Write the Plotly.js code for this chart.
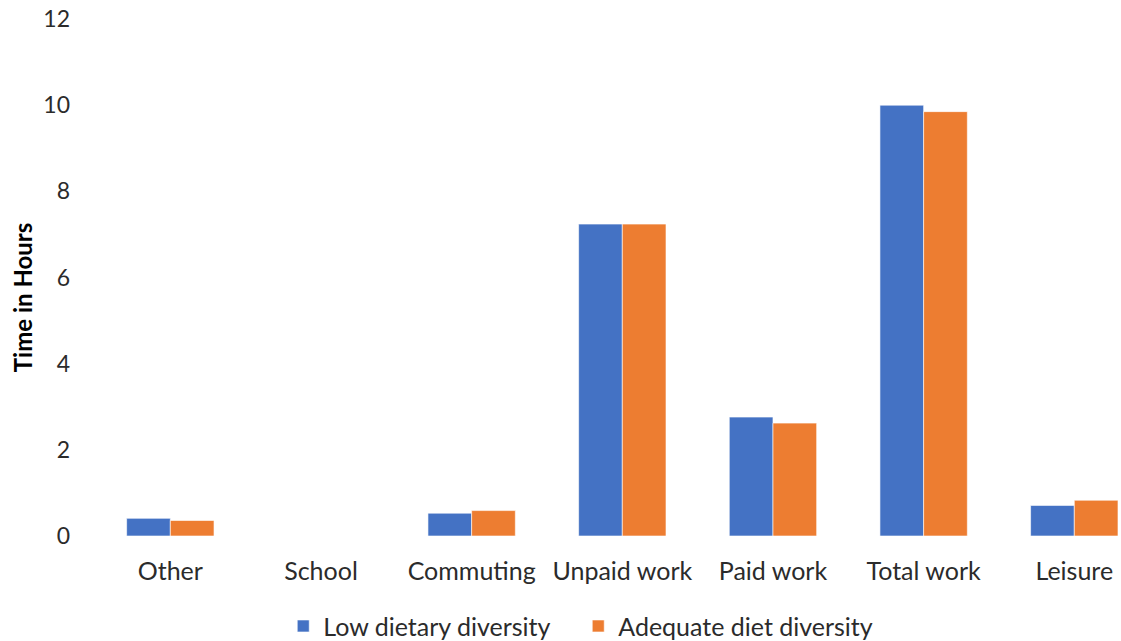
<!DOCTYPE html>
<html>
<head>
<meta charset="utf-8">
<script src="https://cdn.plot.ly/plotly-3.0.1.min.js"></script>
<style>
  html, body { margin: 0; padding: 0; background: #fff; }
  #chart { width: 1121px; height: 641px; }
</style>
</head>
<body>
<div id="chart"></div>
<script>
// Average daily hours spent on each activity, by diet diversity group
const categories = ["Other", "School", "Commuting", "Unpaid work", "Paid work", "Total work", "Leisure"];
const lowDiversity = [0.41, 0, 0.53, 7.24, 2.76, 10.0, 0.71];
const adequateDiversity = [0.36, 0, 0.59, 7.24, 2.62, 9.85, 0.83];
const seriesNames = ["Low dietary diversity", "Adequate diet diversity"];
const yTicks = [0, 2, 4, 6, 8, 10, 12];
const yTitle = "Time in Hours";

const textColor = "#2b2b2b";
const family = "Lato, 'Open Sans', sans-serif";

const traces = [
  {
    type: "bar", name: seriesNames[0], x: categories, y: lowDiversity,
    marker: { color: "#4472C4", line: { color: "#ffffff", width: 0.6 } },
    hoverinfo: "x+y+name"
  },
  {
    type: "bar", name: seriesNames[1], x: categories, y: adequateDiversity,
    marker: { color: "#ED7D31", line: { color: "#ffffff", width: 0.6 } },
    hoverinfo: "x+y+name"
  }
];

const layout = {
  width: 1121, height: 641,
  paper_bgcolor: "#ffffff", plot_bgcolor: "#ffffff",
  margin: { l: 95, r: 0, t: 19, b: 105, autoexpand: false },
  font: { family: family, size: 24, color: textColor },
  barmode: "group",
  bargap: 0.42,
  bargroupgap: 0,
  showlegend: true,
  legend: {
    orientation: "h", x: 0.471, xanchor: "center", y: -0.219, yanchor: "bottom",
    font: { family: family, size: 25, color: textColor },
    entrywidth: 250, entrywidthmode: "pixels",
    itemwidth: 30, tracegroupgap: 0
  },
  xaxis: {
    type: "category",
    range: [-0.5, 6.31],
    showline: false, showgrid: false, zeroline: false,
    ticks: "", ticklabelstandoff: 18,
    tickfont: { family: family, size: 25, color: textColor },
    fixedrange: true
  },
  yaxis: {
    range: [0, 12],
    tickvals: yTicks,
    ticktext: yTicks.map(String),
    showline: false, showgrid: false, zeroline: false,
    ticks: "", ticklabelstandoff: 24,
    tickfont: { family: family, size: 23, color: textColor },
    fixedrange: true
  },
  annotations: [{
    text: "<b>" + yTitle + "</b>",
    xref: "paper", yref: "paper",
    x: -0.0711, y: 0.462, xanchor: "center", yanchor: "middle",
    textangle: -90, showarrow: false,
    font: { family: family, size: 24, color: "#000000" }
  }]
};

Plotly.newPlot("chart", traces, layout, { displayModeBar: false, staticPlot: true });
</script>
</body>
</html>
